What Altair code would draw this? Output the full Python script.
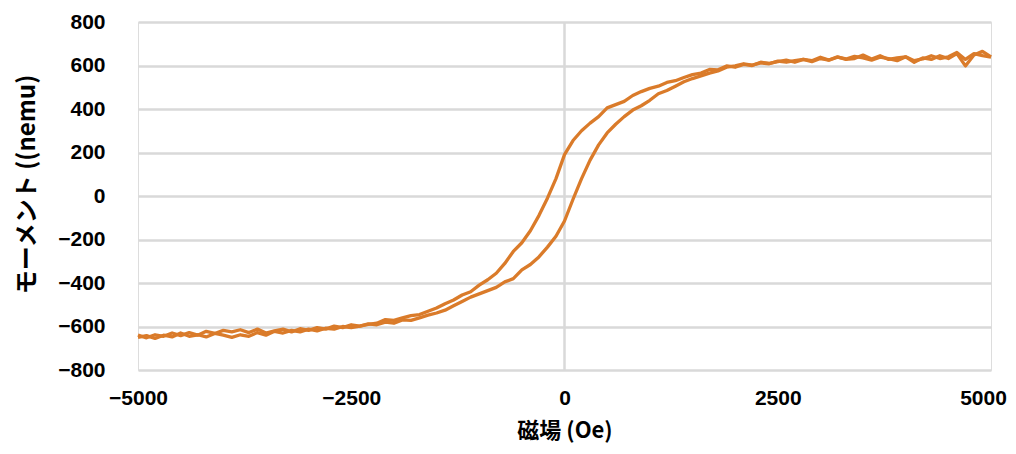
import altair as alt
import pandas as pd

# Descending branch: field from +5000 to -5000 Oe, step 100
desc_field = list(range(5000, -5001, -100))
desc_moment = [
    638, 645, 655, 628, 660, 640, 632, 645, 630, 622,
    640, 635, 628, 645, 630, 648, 632, 628, 640, 625,
    638, 622, 628, 615, 625, 618, 610, 615, 600, 605,
    592, 598, 580, 582, 565, 558, 545, 530, 522, 505,
    495, 480, 462, 435, 420, 405, 365, 335, 300, 255,
    190, 80, -10, -90, -160, -215, -255, -310, -355, -385,
    -410, -440, -455, -478, -495, -515, -530, -545, -550, -560,
    -572, -568, -585, -590, -598, -605, -600, -612, -608, -620,
    -612, -625, -618, -630, -622, -640, -628, -645, -638, -650,
    -640, -632, -648, -638, -645, -630, -648, -640, -655, -642,
    -650,
]

# Ascending branch: field from -5000 to +5000 Oe, step 100
asc_field = list(range(-5000, 5001, 100))
asc_moment = [
    -640, -652, -638, -645, -630, -642, -628, -640, -622, -632,
    -618, -625, -615, -628, -612, -630, -620, -612, -625, -610,
    -618, -605, -612, -598, -605, -592, -598, -588, -592, -580,
    -585, -570, -572, -560, -548, -538, -525, -505, -485, -465,
    -450, -435, -420, -395, -380, -340, -315, -280, -235, -185,
    -115, -15, 80, 165, 235, 290, 330, 365, 395, 415,
    440, 470, 485, 505, 525, 540, 552, 565, 575, 592,
    598, 608, 602, 612, 608, 620, 615, 622, 628, 618,
    632, 625, 638, 630, 642, 635, 625, 638, 632, 622,
    640, 615, 635, 628, 645, 632, 655, 598, 648, 665,
    640,
]

y_ticks = list(range(-800, 801, 200))
x_ticks = [-5000, -2500, 0, 2500, 5000]

rows = []
for i, (h, m) in enumerate(zip(desc_field, desc_moment)):
    rows.append({"H": h, "M": m, "branch": "desc", "idx": i})
for i, (h, m) in enumerate(zip(asc_field, asc_moment)):
    rows.append({"H": h, "M": m, "branch": "asc", "idx": i})
df = pd.DataFrame(rows)

CJK = "Noto Sans CJK JP"
NUM = "Liberation Sans"
GRID = "#D9D9D9"
LINE = "#DA7B2A"

xscale = alt.Scale(domain=[-5000, 5000], nice=False)
yscale = alt.Scale(domain=[-800, 800], nice=False)

zero_rule = alt.Chart(pd.DataFrame({"H": [0]})).mark_rule(
    color=GRID, strokeWidth=2.5
).encode(x=alt.X("H:Q", scale=xscale))

line = alt.Chart(df).mark_line(color=LINE, strokeWidth=3.3, strokeJoin="round").encode(
    x=alt.X(
        "H:Q",
        scale=xscale,
        title="磁場 (Oe)",
        axis=alt.Axis(
            values=x_ticks,
            grid=False,
            domain=False,
            ticks=False,
            labelPadding=17,
            labelFontSize=21,
            labelFontWeight="bold",
            labelColor="#000000",
            labelFont=NUM,
            labelFlush=False,
            labelOffset=alt.ConditionalAxisNumber(
                condition={"test": "datum.value === 5000", "value": -8}, value=0
            ),
            titleFontSize=22,
            titleFontWeight="bold",
            titleFont=CJK,
            titleColor="#000000",
            titleY=60,
            titleBaseline="middle",
            format="d",
        ),
    ),
    y=alt.Y(
        "M:Q",
        scale=yscale,
        title="モーメント ((nemu)",
        axis=alt.Axis(
            values=y_ticks,
            grid=True,
            gridColor=GRID,
            gridWidth=2.5,
            domain=False,
            ticks=False,
            labelPadding=33,
            labelFontSize=21,
            labelFontWeight="bold",
            labelColor="#000000",
            labelFont=NUM,
            titleFontSize=24,
            titleFontWeight="bold",
            titleFont=CJK,
            titleColor="#000000",
            titleAngle=-90,
            titleX=-99,
            titleY=162,
            titleAlign="center",
            titleBaseline="bottom",
            format="d",
        ),
    ),
    detail="branch:N",
    order="idx:Q",
)

chart = alt.layer(zero_rule, line).properties(
    width=853,
    height=348,
    autosize=alt.AutoSizeParams(type="none"),
    padding={"left": 130, "top": 14, "right": 17, "bottom": 76},
).configure_view(stroke=None).configure(background="#FFFFFF")

chart.save("out.html", embed_options={"renderer": "svg", "actions": False})
